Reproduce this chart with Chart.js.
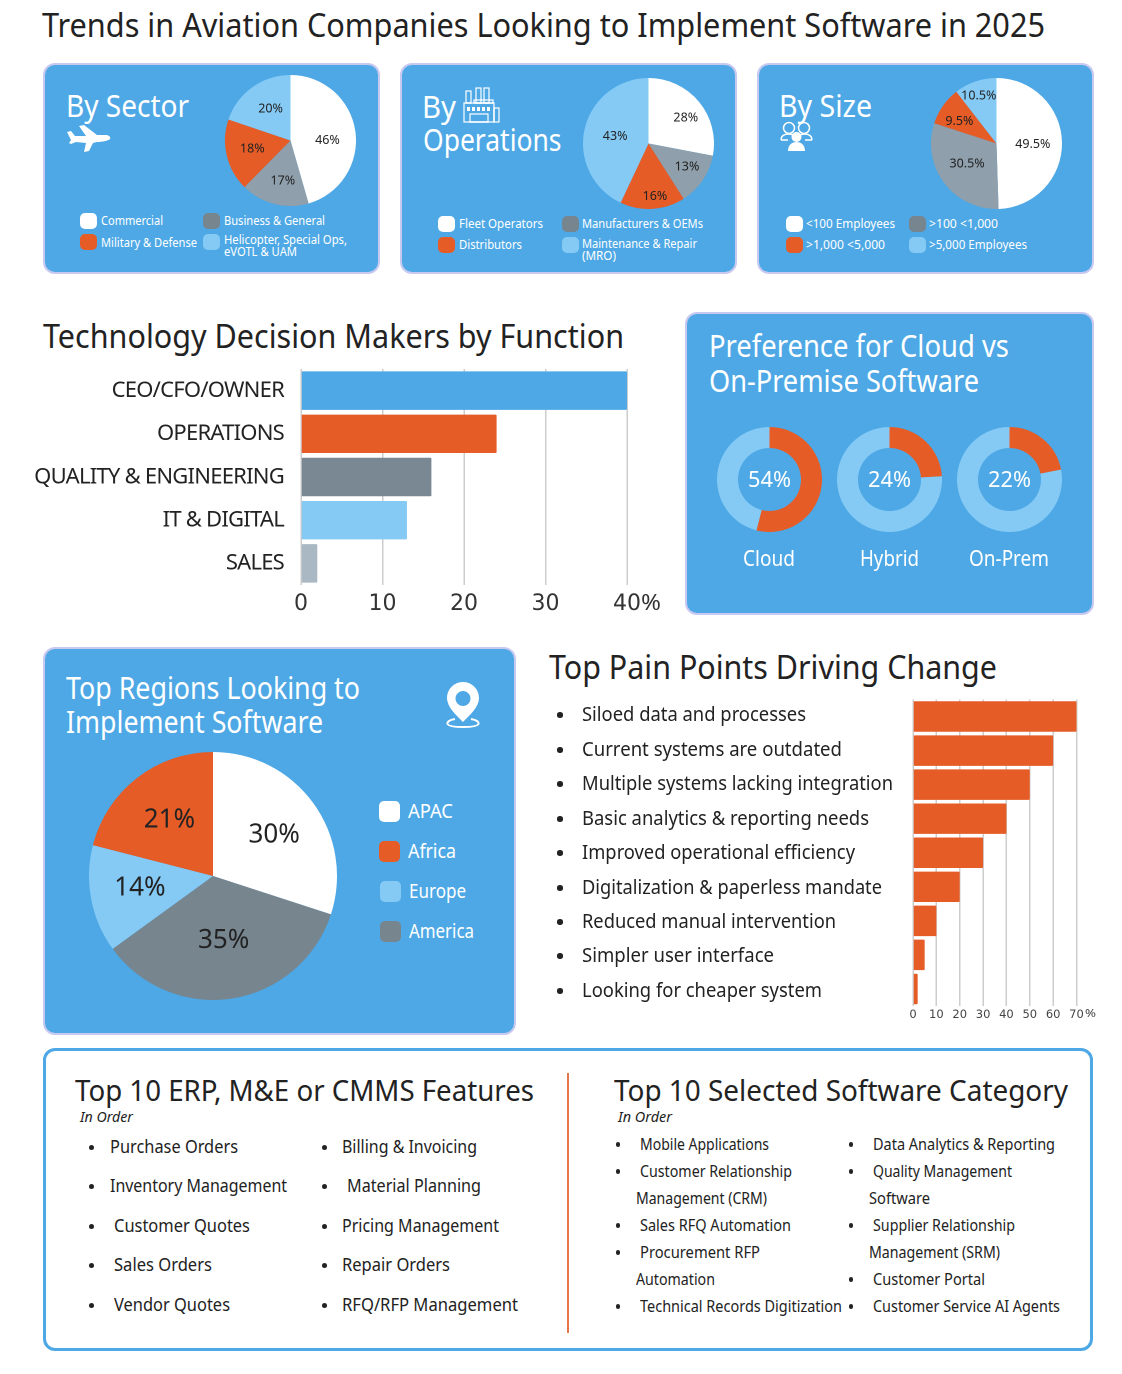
<!DOCTYPE html>
<html><head><meta charset="utf-8">
<script src="https://cdn.jsdelivr.net/npm/chart.js@4"></script>
<style>
html,body{margin:0;padding:0;background:#fff}
#page{position:relative;width:1122px;height:1374px;overflow:hidden;font-family:"Noto Sans",sans-serif}
.card{position:absolute;box-sizing:border-box;background:#4da8e5;border:2px solid #c7c9f0;border-radius:12px}
.t{position:absolute;white-space:pre;transform-origin:0 50%}
.sw{position:absolute;border-radius:5px}
canvas{position:absolute}
svg{position:absolute}
</style></head><body><div id="page"></div>
<script>
const WHITE='#ffffff',ORANGE='#e65c27',LIGHT='#85caf5',GREY='#8f9fab',SLATE='#77858f',BLUE='#4da8e5',INK='#222222';

const sectorLabels=['Commercial','Business & General','Military & Defense'];
const sectorValues=[46,17,18,20];
const operationsValues=[28,13,16,43];
const sizeValues=[49.5,30.5,9.5,10.5];
const operationsLabels=['Fleet Operators','Manufacturers & OEMs','Distributors'];
const sizeLabels=['<100 Employees','>100 <1,000','>1,000 <5,000','>5,000 Employees'];
const functionNames=['CEO/CFO/OWNER','OPERATIONS','QUALITY & ENGINEERING','IT & DIGITAL','SALES'];
const functionValues=[40,24,16,13,2];
const deploymentNames=['Cloud','Hybrid','On-Prem'];
const deploymentValues=[54,24,22];
const regionNames=['APAC','America','Europe','Africa'];
const regionValues=[30,35,14,21];
const painNames=['Siloed data and processes','Current systems are outdated','Multiple systems lacking integration','Basic analytics & reporting needs','Improved operational efficiency','Digitalization & paperless mandate','Reduced manual intervention','Simpler user interface','Looking for cheaper system'];
const painValues=[70,60,50,40,30,20,10,5,2];

const page=document.getElementById('page');
function T(s,x,base,size,right,opt={}){
  const e=document.createElement('div');e.className='t';e.textContent=s;
  const c=opt.color||'#222';
  e.style.cssText=`left:${x}px;top:${base-.888*size}px;font-size:${size}px;line-height:${size}px;color:${c};font-weight:${opt.weight||400};font-style:${opt.italic?'italic':'normal'}`;
  page.appendChild(e);
  if(right){const w=e.getBoundingClientRect().width;e.style.transform=`scaleX(${(right-x)/w})`;}
  return e;
}
function C(s,cx,base,size,w,opt={}){T(s,cx-w/2,base,size,cx+w/2,opt);}
function card(x,y,r,b){const d=document.createElement('div');d.className='card';d.style.cssText=`left:${x}px;top:${y}px;width:${r-x}px;height:${b-y}px`;page.appendChild(d);}
function sw(x,y,w,h,c){const d=document.createElement('div');d.className='sw';d.style.cssText=`left:${x}px;top:${y}px;width:${w}px;height:${h}px;background:${c}`;page.appendChild(d);}
function dot(x,y,d){const e=document.createElement('div');e.style.cssText=`position:absolute;left:${x-d/2}px;top:${y-d/2}px;width:${d}px;height:${d}px;border-radius:50%;background:#222`;page.appendChild(e);}
function cv(x,y,w,h){const c=document.createElement('canvas');c.width=w;c.height=h;c.style.cssText=`left:${x}px;top:${y}px;width:${w}px;height:${h}px`;page.appendChild(c);return c;}
function icon(x,y,w,h,vb,body){page.insertAdjacentHTML('beforeend',`<svg style="left:${x}px;top:${y}px" width="${w}" height="${h}" viewBox="${vb}">${body}</svg>`);}

Chart.defaults.animation=false;
Chart.defaults.font.family='"Noto Sans",sans-serif';
Chart.defaults.plugins.legend.display=false;
Chart.defaults.plugins.tooltip.enabled=false;

const pctPlugin={id:'pct',afterDatasetsDraw(ch,a,o){
  if(!o.size)return;
  const ctx=ch.ctx,arcs=ch.getDatasetMeta(0).data;
  ctx.save();ctx.font=`${o.size}px "Noto Sans",sans-serif`;ctx.fillStyle=INK;ctx.textAlign='center';ctx.textBaseline='middle';
  const lift=o.size>20?2:1.5;
  arcs.forEach((arc,i)=>{
    const m=(arc.startAngle+arc.endAngle)/2,r=arc.outerRadius*.6;
    const n=o.nudge[i];
    ctx.fillText(ch.data.datasets[0].data[i]+'%',arc.x+Math.cos(m)*r+n[0],arc.y+Math.sin(m)*r+n[1]+lift);
  });
  ctx.restore();
}};
function pie(cx,cy,r,vals,cols,size,nudge){
  return new Chart(cv(cx-r,cy-r,2*r,2*r),{type:'pie',plugins:[pctPlugin],
    data:{datasets:[{data:vals,backgroundColor:cols,borderWidth:0}]},
    options:{responsive:false,devicePixelRatio:2,layout:{padding:0},plugins:{pct:{size,nudge}}}});
}
function donut(cx,cy,r,v){
  return new Chart(cv(cx-r,cy-r,2*r,2*r),{type:'doughnut',
    data:{datasets:[{data:[v,100-v],backgroundColor:[ORANGE,LIGHT],borderWidth:0}]},
    options:{responsive:false,devicePixelRatio:2,cutout:'60%',layout:{padding:0}}});
}
function hbar(x,y,w,h,left,bottom,rightPad,names,vals,cols,o){
  const sp={id:'sp',beforeDraw(ch){
    const ys=ch.scales.y,orig=ys.drawLabels;
    ys.drawLabels=function(a){ch.ctx.save();ch.ctx.letterSpacing=(o.spacing||0)+'px';orig.call(this,a);ch.ctx.restore();};
  }};
  return new Chart(cv(x,y,w,h),{type:'bar',plugins:[sp],
    data:{labels:names,datasets:[{data:vals,backgroundColor:cols,borderWidth:0,borderRadius:1,barPercentage:o.bar,categoryPercentage:1}]},
    options:{indexAxis:'y',responsive:false,devicePixelRatio:2,maintainAspectRatio:false,
      layout:{padding:{top:o.top,right:rightPad,left:0,bottom:0}},
      scales:{
        x:{min:0,max:o.max,afterFit(s){s.height=bottom;s.paddingLeft=0;s.paddingRight=0;},border:{display:false},
           grid:{color:'#cdcdcd',lineWidth:o.gridW,drawTicks:false},
           ticks:{stepSize:10,autoSkip:false,maxRotation:0,padding:o.xPad,color:o.xColor,font:{size:o.xSize,family:'"DejaVu Sans",sans-serif'}}},
        y:{afterFit(s){s.width=left;s.paddingTop=0;s.paddingBottom=0;},border:{display:false},grid:{display:false,drawTicks:false},
           ticks:{autoSkip:false,padding:o.yPad,color:'#222',display:o.yShow!==false,font:{size:o.ySize}}}
      }}});
}

/* page titles */
T('Trends in Aviation Companies Looking to Implement Software in 2025',42,37,33,1045);
T('Technology Decision Makers by Function',43,348,33,624);
T('Top Pain Points Driving Change',549,679,33,997);

/* three top cards */
card(43,63,380,274);card(400,63,737,274);card(757,63,1094,274);
T('By Sector',66,117.5,30,189,{color:WHITE});
T('By',422,118.5,30,456,{color:WHITE});
T('Operations',422.5,151.5,30,561,{color:WHITE});
T('By Size',779,117.5,30,872,{color:WHITE});

pie(290.5,140,65.5,sectorValues,[WHITE,GREY,ORANGE,LIGHT],12.5,[[-2,4],[2,1],[0,-2],[3,-1]]);
pie(648.5,143,65.5,operationsValues,[WHITE,GREY,ORANGE,LIGHT],12.5,[[7,-2],[6,0],[4,12],[5,0]]);
pie(996.5,143,65.5,sizeValues,[WHITE,GREY,ORANGE,LIGHT],12.5,[[-3,0],[2,-4.5],[-5,-1],[-5,-12]]);

icon(66,125,45,27,'0 0 45 27',`<path fill="#fff" d="M1 7 L5 6 L9 11 L20 11 L13 1 L18 0 L31 10 L39 10 C43 10 45 12 44 14 C42 16 36 17 31 17 L27 18 L23 26 L18 27 L20 18 L10 17 L5 19 L3 18 L5 15 Z"/>`);
icon(463,86,37,37,'0 0 37 37',`<g fill="none" stroke="#fff" stroke-width="1.2"><rect x="1" y="17" width="30" height="19"/><rect x="31" y="22" width="5" height="14"/><rect x="3" y="5" width="5" height="12"/><rect x="13" y="2" width="5" height="15"/><rect x="21" y="2" width="5" height="15"/><rect x="11" y="14" width="19" height="3"/><rect x="7" y="28" width="18" height="8"/></g><g fill="#fff"><rect x="4" y="21" width="3" height="4"/><rect x="9" y="21" width="3" height="4"/><rect x="14" y="21" width="3" height="4"/><rect x="19" y="21" width="3" height="4"/><rect x="24" y="21" width="3" height="4"/></g>`);
icon(780,121,33,30,'0 0 33 30',`<g fill="none" stroke="#fff" stroke-width="1.5"><circle cx="9" cy="7" r="5.5"/><circle cx="24" cy="7" r="5.5"/><path d="M1 19 C1 14 5 13 9 13 C11 13 13 14 14 15 M32 19 C32 14 28 13 24 13 C22 13 20 14 19 15 M1 19 L8 19 M32 19 L25 19"/></g><circle cx="16.5" cy="16" r="5" fill="#fff"/><path fill="#fff" d="M8 30 C8 24 12 21 16.5 21 C21 21 25 24 25 30 Z"/>`);

/* legends */
sw(80,213,17,16,WHITE);T(sectorLabels[0],101,226,12.5,163,{color:WHITE});
sw(203,213,17,16,SLATE);T(sectorLabels[1],224,226,12.5,325,{color:WHITE});
sw(80,234,17,16,ORANGE);T(sectorLabels[2],101,248,12.5,197,{color:WHITE});
sw(203,234,17,16,LIGHT);T('Helicopter, Special Ops,',224,245.5,12.5,347,{color:WHITE});T('eVOTL & UAM',224,257,12.5,297,{color:WHITE});

sw(438,216,17,16,WHITE);T(operationsLabels[0],459,229,12.5,543,{color:WHITE});
sw(562,216,17,16,SLATE);T(operationsLabels[1],582,229,12.5,703,{color:WHITE});
sw(438,237,17,16,ORANGE);T(operationsLabels[2],459,250,12.5,522,{color:WHITE});
sw(562,237,17,16,LIGHT);T('Maintenance & Repair',582,249,12.5,697,{color:WHITE});T('(MRO)',582,261,12.5,616,{color:WHITE});

sw(786,216,17,16,WHITE);T(sizeLabels[0],806,229,12.5,895,{color:WHITE});
sw(909,216,17,16,SLATE);T(sizeLabels[1],929,229,12.5,998,{color:WHITE});
sw(786,237,17,16,ORANGE);T(sizeLabels[2],806,250,12.5,885,{color:WHITE});
sw(909,237,17,16,LIGHT);T(sizeLabels[3],929,250,12.5,1027,{color:WHITE});

/* function bar chart */
hbar(0,360,680,260,301,35,53,functionNames,functionValues,[BLUE,ORANGE,'#7a8894',LIGHT,'#aab8c4'],
  {max:40,top:9,bar:.89,gridW:1.5,xPad:6,xSize:22,xColor:'#333',ySize:22,yPad:17,spacing:-.76});
T('%',641,610,22,661,{color:'#333'});

/* cloud card */
card(685,312,1094,615);
T('Preference for Cloud vs',709,358,30,1009,{color:WHITE});
T('On-Premise Software',709,393,30,979,{color:WHITE});
const donutX=[769.5,889.5,1009.5];
deploymentValues.forEach((v,i)=>{
  donut(donutX[i],479.5,52.5,v);
  C(v+'%',donutX[i]-.5,487,22,43,{color:WHITE});
});
C(deploymentNames[0],769,566,22,52,{color:WHITE});
C(deploymentNames[1],889,566,22,59,{color:WHITE});
C(deploymentNames[2],1009,566,22,80,{color:WHITE});

/* regions card */
card(43,647,516,1035);
T('Top Regions Looking to',66,700,30,360,{color:WHITE});
T('Implement Software',66,734,30,323,{color:WHITE});
pie(213,876,124,regionValues,[WHITE,SLATE,LIGHT,ORANGE],26,[[1,1],[-1,-11],[0,-4],[2,1]]);
icon(446,681,34,48,'0 0 34 48',`<path fill="#fff" fill-rule="evenodd" d="M17 1 C8 1 1 8 1 17 C1 26 10 34 17 41 C24 34 33 26 33 17 C33 8 26 1 17 1 Z M17 10 A7.5 7.5 0 1 1 16.99 10 Z"/><path fill="none" stroke="#fff" stroke-width="2" d="M9 38 C3 39 1 41 1.5 43 C3 47 31 47 32.5 43 C33 41 31 39 25 38"/>`);
sw(379,801,21,21,WHITE);T(regionNames[0],408,819,20,453,{color:WHITE});
sw(379,841,21,21,ORANGE);T(regionNames[3],408,859,20,456,{color:WHITE});
sw(380,881,21,21,LIGHT);T(regionNames[2],409,899,20,466,{color:WHITE});
sw(380,921,21,21,SLATE);T(regionNames[1],409,939,20,474,{color:WHITE});

/* pain points */
hbar(582,690,528,340,331,24,33.5,painNames,painValues,ORANGE,
  {max:70,top:9.5,bar:.895,gridW:1.5,xPad:2,xSize:11.5,xColor:'#444',ySize:20,yPad:0,yShow:false});
T('%',1085,1017,11.5,1096,{color:'#444'});
const painY=[714,749,783,818,852,887,921,955,990];
const painRight=[806,842,893,869,855,882,836,774,822];
painY.forEach((y,i)=>{dot(560,y+1,5.5);T(painNames[i],582,y+8,20,painRight[i]);});

/* bottom panel */
const panel=document.createElement('div');
panel.style.cssText='position:absolute;left:43px;top:1048px;width:1050px;height:303px;box-sizing:border-box;border:3px solid #4da8e5;border-radius:12px;background:#fff';
page.appendChild(panel);
const rule=document.createElement('div');
rule.style.cssText='position:absolute;left:567px;top:1073px;width:2px;height:260px;background:#e8764d';
page.appendChild(rule);
T('Top 10 ERP, M&E or CMMS Features',75,1101,29,534);
T('In Order',80,1122,15,133,{italic:true});
T('Top 10 Selected Software Category',614,1101,29,1068);
T('In Order',618,1122,15,672,{italic:true});

const L=(s,x,yc,size,right)=>T(s,x,yc+size*.36,size,right);
[['Purchase Orders',110,1147,238],['Inventory Management',110,1186,287],['Customer Quotes',114,1226,250],['Sales Orders',114,1265,212],['Vendor Quotes',114,1305,230]]
 .forEach(r=>{dot(91,r[2]+.5,5);L(r[0],r[1],r[2],18,r[3]);});
[['Billing & Invoicing',342,1147,477],['Material Planning',347,1186,481],['Pricing Management',342,1226,499],['Repair Orders',342,1265,450],['RFQ/RFP Management',342,1305,518]]
 .forEach(r=>{dot(324,r[2]+.5,5);L(r[0],r[1],r[2],18,r[3]);});
[['Mobile Applications',640,1144,769,1],['Customer Relationship',640,1171,792,1],['Management (CRM)',636,1198,767,0],['Sales RFQ Automation',640,1225,791,1],['Procurement RFP',640,1252,760,1],['Automation',636,1279,715,0],['Technical Records Digitization',640,1306,842,1]]
 .forEach(r=>{if(r[4])dot(618,r[2]+.5,4.5);L(r[0],r[1],r[2],16,r[3]);});
[['Data Analytics & Reporting',873,1144,1055,1],['Quality Management',873,1171,1012,1],['Software',869,1198,930,0],['Supplier Relationship',873,1225,1015,1],['Management (SRM)',869,1252,1000,0],['Customer Portal',873,1279,985,1],['Customer Service AI Agents',873,1306,1060,1]]
 .forEach(r=>{if(r[4])dot(851,r[2]+.5,4.5);L(r[0],r[1],r[2],16,r[3]);});
</script></body></html>
